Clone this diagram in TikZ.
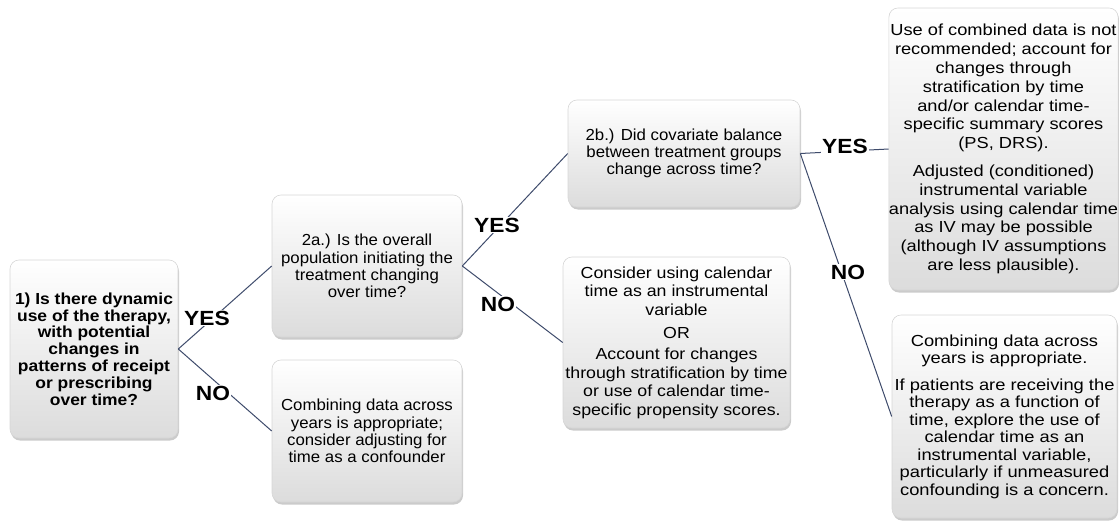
\documentclass[tikz,border=0pt]{standalone}
\usepackage{fontspec}
\setmainfont{Liberation Sans}
\newfontfamily\FontNarrow{Liberation Sans}[FakeStretch=1.05]
\newfontfamily\FontMid{Liberation Sans}[FakeStretch=1.11]
\newfontfamily\FontBoldQ{Liberation Sans}[FakeStretch=1.09]
\newfontfamily\FontWide{Liberation Sans}[FakeStretch=1.145]
\newfontfamily\FontWider{Liberation Sans}[FakeStretch=1.14]
\usetikzlibrary{shadows}
\definecolor{EdgeBlue}{HTML}{3E4B6B}
\definecolor{BoxGrey}{HTML}{DCDCDC}
\tikzset{
  BoxStyle/.style = {rectangle, rounded corners=9pt, draw=black!16, line width=0.6pt,
                     top color=white, bottom color=BoxGrey, align=center, inner sep=0pt,
                     font=\FontNarrow\fontsize{16}{17.3}\selectfont,
                     drop shadow={shadow xshift=1pt, shadow yshift=-2.5pt, opacity=0.45, fill=black!45}},
  LabelStyle/.style = {fill=white, inner sep=1pt, text=black,
                       font=\FontMid\fontsize{20.5}{22}\selectfont\bfseries},
  EdgeStyle/.style = {draw=EdgeBlue, line width=1pt} }

\begin{document}
\begin{tikzpicture}[x=1pt, y=-1pt]
  \useasboundingbox (0,0) rectangle (1119,522);
  % question boxes
  \node[BoxStyle, minimum width=168pt, minimum height=178pt, font=\FontBoldQ\fontsize{16}{16.8}\selectfont\bfseries]
    (QDyn) at (94,349) {1) Is there dynamic\\use of the therapy,\\with potential\\changes in\\patterns of receipt\\or prescribing\\over time?};
  \node[BoxStyle, minimum width=190pt, minimum height=142pt]
    (QPop) at (367,266) {2a.) Is the overall\\population initiating the\\treatment changing\\over time?};
  \node[BoxStyle, minimum width=190pt, minimum height=142pt]
    (AComb) at (367,431) {Combining data across\\years is appropriate;\\consider adjusting for\\time as a confounder};
  \node[BoxStyle, minimum width=232pt, minimum height=107pt, font=\FontNarrow\fontsize{16}{16.8}\selectfont]
    (QBal) at (684,153.5) {2b.) Did covariate balance\\between treatment groups\\change across time?};
  \node[BoxStyle, minimum width=227pt, minimum height=171pt, font=\FontMid\fontsize{16}{18.6}\selectfont]
    (ACal) at (676.5,342.5) {Consider using calendar\\time as an instrumental\\variable\\[5pt]OR\\[2pt]Account for changes\\through stratification by time\\or use of calendar time-\\specific propensity scores.};
  \node[BoxStyle, minimum width=227pt, minimum height=282pt, font=\FontWider\fontsize{16}{18.8}\selectfont]
    (AStrat) at (1003.5,149) {Use of combined data is not\\recommended; account for\\changes through\\stratification by time\\and/or calendar time-\\specific summary scores\\(PS, DRS).\\[9pt]Adjusted (conditioned)\\instrumental variable\\analysis using calendar time\\as IV may be possible\\(although IV assumptions\\are less plausible).};
  \node[BoxStyle, minimum width=225pt, minimum height=203pt, font=\FontWide\fontsize{16}{17.5}\selectfont]
    (AIV) at (1004.5,416.5) {Combining data across\\years is appropriate.\\[9pt]If patients are receiving the\\therapy as a function of\\time, explore the use of\\calendar time as an\\instrumental variable,\\particularly if unmeasured\\confounding is a concern.};
  % connectors
  \draw[EdgeStyle] (QDyn.east) -- (QPop.west);
  \draw[EdgeStyle] (QDyn.east) -- (AComb.west);
  \draw[EdgeStyle] (QPop.east) -- (QBal.west);
  \draw[EdgeStyle] (QPop.east) -- (ACal.west);
  \draw[EdgeStyle] (QBal.east) -- (AStrat.west);
  \draw[EdgeStyle] (QBal.east) -- (AIV.west);
  % answers
  \node[LabelStyle] (yesA) at (207,318) {YES};
  \node[LabelStyle] (noA)  at (213,393) {NO};
  \node[LabelStyle] (yesB) at (497,225) {YES};
  \node[LabelStyle] (noB)  at (498,304) {NO};
  \node[LabelStyle] (yesC) at (845,146) {YES};
  \node[LabelStyle] (noC)  at (848,272) {NO};
\end{tikzpicture}
\end{document}
